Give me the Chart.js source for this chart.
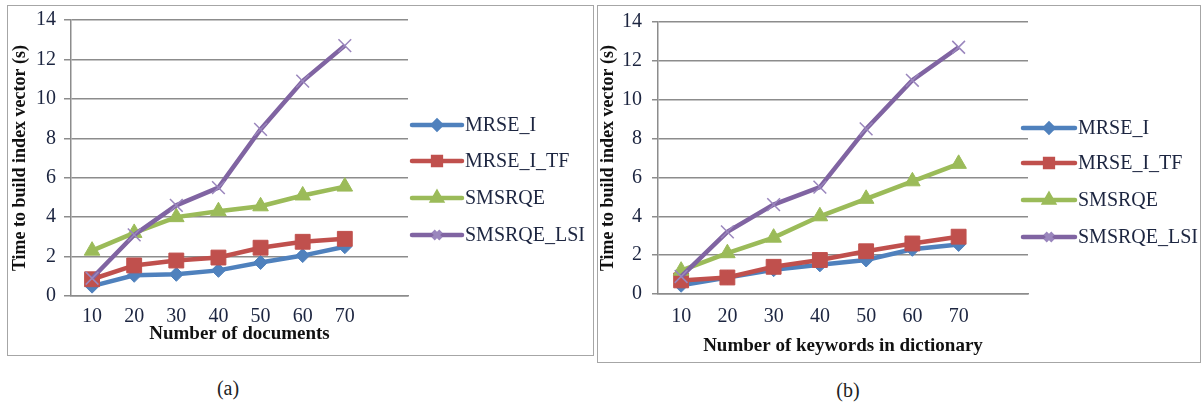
<!DOCTYPE html>
<html>
<head>
<meta charset="utf-8">
<script src="https://cdn.jsdelivr.net/npm/chart.js@4.4.1/dist/chart.umd.min.js"></script>
<style>
  html, body { margin: 0; padding: 0; background: #ffffff; width: 1204px; height: 407px; overflow: hidden; }
  .box { position: absolute; border: 1.5px solid #a6a6a6; box-sizing: border-box; }
  .cv { position: absolute; }
  .cap { position: absolute; font-family: "Liberation Serif", serif; font-size: 20px; color: #222; transform: translate(-50%, -50%); }
</style>
</head>
<body>
<div class="box" style="left:7px; top:5px; width:587px; height:351px;"></div>
<div class="box" style="left:597px; top:5px; width:604px; height:358px;"></div>
<div class="cv" style="left:0px; top:0px; width:594px; height:360px;"><canvas id="ca" width="594" height="360"></canvas></div>
<div class="cv" style="left:594px; top:0px; width:610px; height:370px;"><canvas id="cb" width="610" height="370"></canvas></div>
<div class="cap" style="left:228px; top:388px;">(a)</div>
<div class="cap" style="left:848px; top:390px;">(b)</div>
<script>
// ---- data ----
const xValues = [10, 20, 30, 40, 50, 60, 70];
const seriesNames = ["MRSE_I", "MRSE_I_TF", "SMSRQE", "SMSRQE_LSI"];
const yTicks = [0, 2, 4, 6, 8, 10, 12, 14];

// (a) Number of documents
const aMRSE_I      = [0.5, 1.05, 1.1, 1.3, 1.7, 2.05, 2.5];
const aMRSE_I_TF   = [0.85, 1.55, 1.8, 1.95, 2.45, 2.75, 2.9];
const aSMSRQE      = [2.3, 3.2, 4.0, 4.3, 4.55, 5.1, 5.55];
const aSMSRQE_LSI  = [0.9, 3.1, 4.6, 5.5, 8.45, 10.9, 12.7];

// (b) Number of keywords in dictionary
const bMRSE_I      = [0.45, 0.85, 1.25, 1.5, 1.75, 2.3, 2.55];
const bMRSE_I_TF   = [0.7, 0.85, 1.4, 1.75, 2.2, 2.6, 2.95];
const bSMSRQE      = [1.2, 2.1, 2.9, 4.0, 4.9, 5.8, 6.7];
const bSMSRQE_LSI  = [0.9, 3.2, 4.6, 5.5, 8.5, 11.0, 12.7];

const yTitle = "Time to build index vector (s)";
const xTitleA = "Number of documents";
const xTitleB = "Number of keywords in dictionary";

// ---- styles ----
const colors = ["#4F81BD", "#C0504D", "#9BBB59", "#8064A2"];
const markerBorder = ["#4F81BD", "#C0504D", "#9BBB59", "#9a86bd"];
const pStyles = ["rectRot", "rect", "triangle", "crossRot"];
const pRadius = [7, 10.5, 9, 9];
const legRadius = [4, 5.5, 5, 5.5];
const tickColor = "#1c2540";
const gridColor = "#8c8c8c";
const serif = "'Liberation Serif', 'Times New Roman', serif";

const excelLegend = {
  id: 'excelLegend',
  afterDraw(chart, args, opts) {
    const ctx = chart.ctx;
    ctx.save();
    chart.data.datasets.forEach((ds, i) => {
      const y = opts.rows[i];
      ctx.strokeStyle = colors[i];
      ctx.lineWidth = 4.5;
      ctx.lineCap = 'round';
      ctx.beginPath();
      ctx.moveTo(opts.x, y);
      ctx.lineTo(opts.x + opts.len, y);
      ctx.stroke();
      ctx.fillStyle = colors[i];
      ctx.strokeStyle = markerBorder[i];
      ctx.lineCap = 'butt';
      Chart.helpers.drawPoint(ctx, {pointStyle: pStyles[i], radius: legRadius[i], borderWidth: 1.5, rotation: 0}, opts.x + opts.len / 2, y);
      ctx.fillStyle = tickColor;
      ctx.font = "20px " + serif;
      ctx.textBaseline = 'middle';
      ctx.textAlign = 'left';
      ctx.fillText(ds.label, opts.x + opts.len + 3, y + 1);
    });
    ctx.restore();
  }
};

function makeChart(id, series, xTitle, geo) {
  const datasets = series.map((vals, i) => ({
    label: seriesNames[i],
    data: vals.map((v, k) => ({x: xValues[k], y: v})),
    borderColor: colors[i],
    backgroundColor: colors[i],
    borderWidth: 4.5,
    pointStyle: pStyles[i],
    pointRadius: pRadius[i],
    pointBorderWidth: i === 3 ? 1.5 : 1,
    pointBackgroundColor: colors[i],
    pointBorderColor: markerBorder[i],
    tension: 0,
    order: 4 - i
  }));
  return new Chart(document.getElementById(id), {
    type: 'line',
    data: { datasets },
    plugins: [excelLegend],
    options: {
      responsive: false,
      animation: false,
      events: [],
      layout: { padding: { top: geo.top, right: geo.right, left: 0, bottom: 0 } },
      plugins: {
        legend: { display: false },
        tooltip: { enabled: false },
        excelLegend: geo.legend
      },
      scales: {
        x: {
          type: 'linear',
          min: 5, max: 85,
          afterBuildTicks: (s) => { s.ticks = xValues.map(v => ({value: v})); },
          afterFit: (s) => { s.height = geo.xh; },
          grid: { display: false, drawTicks: false },
          border: { display: true, color: gridColor, width: 1.5 },
          ticks: { color: tickColor, font: { family: serif, size: 20 }, padding: geo.xpad, maxRotation: 0, autoSkip: false },
          title: { display: true, text: xTitle, color: '#111', font: { family: serif, size: 19, weight: 'bold' }, padding: { top: 0, bottom: geo.xtpad } }
        },
        y: {
          min: 0, max: 14,
          afterBuildTicks: (s) => { s.ticks = yTicks.map(v => ({value: v})); },
          afterFit: (s) => { s.width = geo.yw; },
          grid: { color: gridColor, lineWidth: 1.5, drawTicks: true, tickLength: geo.tl, tickColor: gridColor },
          border: { display: true, color: gridColor, width: 1.5 },
          ticks: { color: tickColor, font: { family: serif, size: 20 }, padding: geo.ypad },
          title: { display: true, text: yTitle, color: '#111', font: { family: serif, size: 18, weight: 'bold' }, padding: { top: geo.ytpad, bottom: 0 } }
        }
      }
    }
  });
}

makeChart('ca', [aMRSE_I, aMRSE_I_TF, aSMSRQE, aSMSRQE_LSI], xTitleA, {
  top: 20, right: 594 - 408, yw: 71, xh: 360 - 296, xpad: 9, xtpad: 15, ytpad: 10, tl: 7, ypad: 8,
  legend: { x: 412, len: 50, rows: [125, 161, 198, 235] }
});
makeChart('cb', [bMRSE_I, bMRSE_I_TF, bSMSRQE, bSMSRQE_LSI], xTitleB, {
  top: 20, right: 610 - 434, yw: 64, xh: 370 - 294, xpad: 11, xtpad: 13, ytpad: 4, tl: 6, ypad: 10,
  legend: { x: 429, len: 52, rows: [128, 163, 200, 237] }
});
</script>
</body>
</html>
